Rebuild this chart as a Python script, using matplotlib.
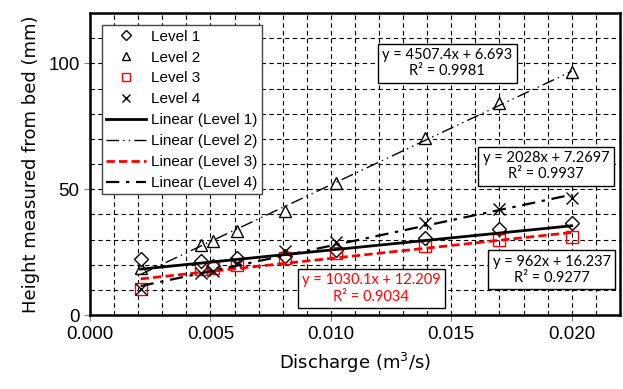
import numpy as np
import matplotlib
matplotlib.use("Agg")
import matplotlib.pyplot as plt
from matplotlib.ticker import MultipleLocator, FormatStrFormatter

# discharge (m3/s) and heights (mm)
discharge = [0.0021, 0.0046, 0.0051, 0.0061, 0.0081, 0.0102, 0.0139, 0.0170, 0.0200]
level1 = [22.4, 21.6, 19.5, 22.7, 23.6, 26.0, 30.7, 34.0, 36.7]
level2 = [18.7, 27.7, 29.3, 33.3, 41.3, 52.4, 70.4, 84.4, 96.7]
level3 = [10.3, 18.3, 18.7, 20.0, 22.7, 24.7, 27.6, 29.7, 30.9]
level4 = [10.3, 16.9, 17.6, 20.7, 25.3, 28.9, 36.7, 42.3, 46.7]

# trendline coefficients as printed on the chart
slopes = [962.0, 4507.4, 1030.1, 2028.0]
intercepts = [16.237, 6.693, 12.209, 7.2697]
r2 = [0.9277, 0.9981, 0.9034, 0.9937]
eq_labels = ["y = 962x + 16.237", "y = 4507.4x + 6.693",
             "y = 1030.1x + 12.209", "y = 2028x + 7.2697"]

names = ["Level 1", "Level 2", "Level 3", "Level 4"]

plt.rcParams['font.family'] = ['Liberation Sans', 'DejaVu Sans']

fig = plt.figure(figsize=(6.23, 3.89), dpi=100)
ax = fig.add_axes([0.1445, 0.19, 0.8505, 0.7766])

x = np.array(discharge)
levels = [level1, level2, level3, level4]
mk = [dict(marker='D', ms=7, mfc='white', mec='black', mew=1),
      dict(marker='^', ms=8, mfc='white', mec='black', mew=1),
      dict(marker='s', ms=9, mfc='none', mec='red', mew=1),
      dict(marker='x', ms=9, mec='black', mew=1)]
zs = [5, 4, 6, 7]
for i in range(4):
    ax.plot(x, levels[i], linestyle='none', label=names[i], zorder=zs[i], **mk[i])

ls = [dict(color='black', lw=2, linestyle='-'),
      dict(color='black', lw=1, linestyle=(0, (9, 3, 1, 3, 1, 3))),
      dict(color='red', lw=2, linestyle=(0, (3, 1.5))),
      dict(color='black', lw=1.6, linestyle=(0, (6, 3, 1.5, 3)))]
xf = np.array([x.min(), x.max()])
for i in range(4):
    ax.plot(xf, slopes[i] * xf + intercepts[i], label="Linear (" + names[i] + ")",
            zorder=8, **ls[i])

ax.set_xlim(0, 0.022)
ax.set_ylim(0, 120)
ax.xaxis.set_major_locator(MultipleLocator(0.005))
ax.xaxis.set_minor_locator(MultipleLocator(0.001))
ax.yaxis.set_major_locator(MultipleLocator(50))
ax.yaxis.set_minor_locator(MultipleLocator(10))
ax.xaxis.set_major_formatter(FormatStrFormatter('%.3f'))
ax.grid(which='both', color='black', linestyle=(0, (4, 3)), lw=0.8)
ax.set_axisbelow(True)
ax.tick_params(axis='both', which='major', labelsize=13.5, length=4, color='gray')
ax.tick_params(axis='both', which='minor', length=0)
for s in ax.spines.values():
    s.set_linewidth(1.8)
    s.set_color('black')

ax.set_xlabel("Discharge (m$^3$/s)", fontsize=13, family='DejaVu Sans', labelpad=6)
ax.set_ylabel("Height measured from bed (mm)", fontsize=13, family='DejaVu Sans', labelpad=6)

leg = ax.legend(loc='upper left', bbox_to_anchor=(0.008, 0.985), fontsize=11,
                fancybox=False, framealpha=1, edgecolor='#444444', handlelength=2.6,
                labelspacing=0.45, borderpad=0.3, handletextpad=0.3, markerscale=0.7)
leg.get_frame().set_linewidth(1)
leg.set_zorder(20)

# equation boxes: (x, y) centre positions, text colour
box_pos = [(0.01917, 18.0), (0.01483, 100.0), (0.01168, 10.6), (0.01894, 59.2)]
box_col = ['black', 'black', 'red', 'black']
for i in range(4):
    ax.text(box_pos[i][0], box_pos[i][1],
            eq_labels[i] + "\nR² = " + "%.4f" % r2[i],
            ha='center', va='center', multialignment='center',
            fontsize=10.5, family='Lato', color=box_col[i], zorder=15,
            bbox=dict(boxstyle='square,pad=0.3', fc='white', ec='black', lw=1))

fig.savefig("out.png", dpi=100)
